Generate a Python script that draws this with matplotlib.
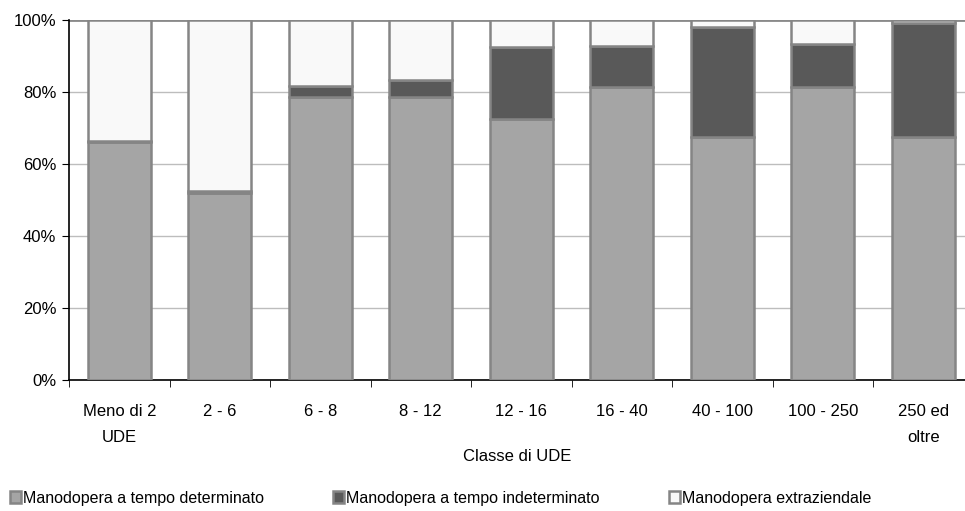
import numpy as np
import matplotlib.pyplot as plt
from matplotlib.ticker import PercentFormatter

plt.rcParams['font.family'] = ['Liberation Sans', 'DejaVu Sans']

# Classi di UDE e quote percentuali della manodopera
classi = ['Meno di 2\nUDE', '2 - 6', '6 - 8', '8 - 12', '12 - 16', '16 - 40',
          '40 - 100', '100 - 250', '250 ed\noltre']
determinato = [66.1, 51.9, 78.7, 78.7, 72.4, 81.4, 67.4, 81.4, 67.4]
indeterminato = [0.3, 0.5, 3.0, 4.6, 20.1, 11.4, 30.7, 11.9, 31.8]
extraziendale = [100 - d - i for d, i in zip(determinato, indeterminato)]

fs = 12

fig = plt.figure(figsize=(9.65, 5.11), dpi=100)
ax = fig.add_axes([0.0715, 0.256, 0.9285, 0.705])

x = np.arange(len(classi))
w = 0.63
edge = '#858585'
ax.bar(x, determinato, w, color='#A5A5A5', edgecolor=edge, linewidth=1.8,
       label='Manodopera a tempo determinato', zorder=3)
ax.bar(x, indeterminato, w, bottom=determinato, color='#595959', edgecolor=edge,
       linewidth=1.8, label='Manodopera a tempo indeterminato', zorder=3)
base = [d + i for d, i in zip(determinato, indeterminato)]
ax.bar(x, extraziendale, w, bottom=base, color='#F9F9F9', edgecolor=edge,
       linewidth=1.8, label='Manodopera extraziendale', zorder=3)

ax.set_ylim(0, 100)
ax.set_xlim(-0.5, 8.415)
ax.set_yticks(np.arange(0, 101, 20))
ax.yaxis.set_major_formatter(PercentFormatter(decimals=0))
ax.yaxis.grid(True, color='#BDBDBD', linewidth=1)
ax.axhline(100, color='#8A8A8A', linewidth=2, zorder=2)

ax.set_xticks(x)
ax.set_xticklabels(classi, linespacing=1.95)
ax.set_xticks(np.arange(-0.5, 8.5, 1), minor=True)
ax.tick_params(axis='x', which='major', length=0, pad=17, labelsize=fs)
ax.tick_params(axis='x', which='minor', length=5, direction='out', color='black')
ax.tick_params(axis='y', length=5, direction='out', labelsize=fs, pad=4)

for s in ['top', 'right']:
    ax.spines[s].set_visible(False)
ax.spines['left'].set_linewidth(1.2)
ax.spines['bottom'].set_linewidth(1.2)

ax.set_xlabel('Classe di UDE', fontsize=fs, labelpad=3)

fig.legend(loc='lower left', bbox_to_anchor=(0.0, -0.008), ncol=3,
           frameon=False, fontsize=11.5, handlelength=0.7, handleheight=0.7,
           handletextpad=0.15, columnspacing=4.3, borderaxespad=0.2)

fig.savefig('out.png', dpi=100)
